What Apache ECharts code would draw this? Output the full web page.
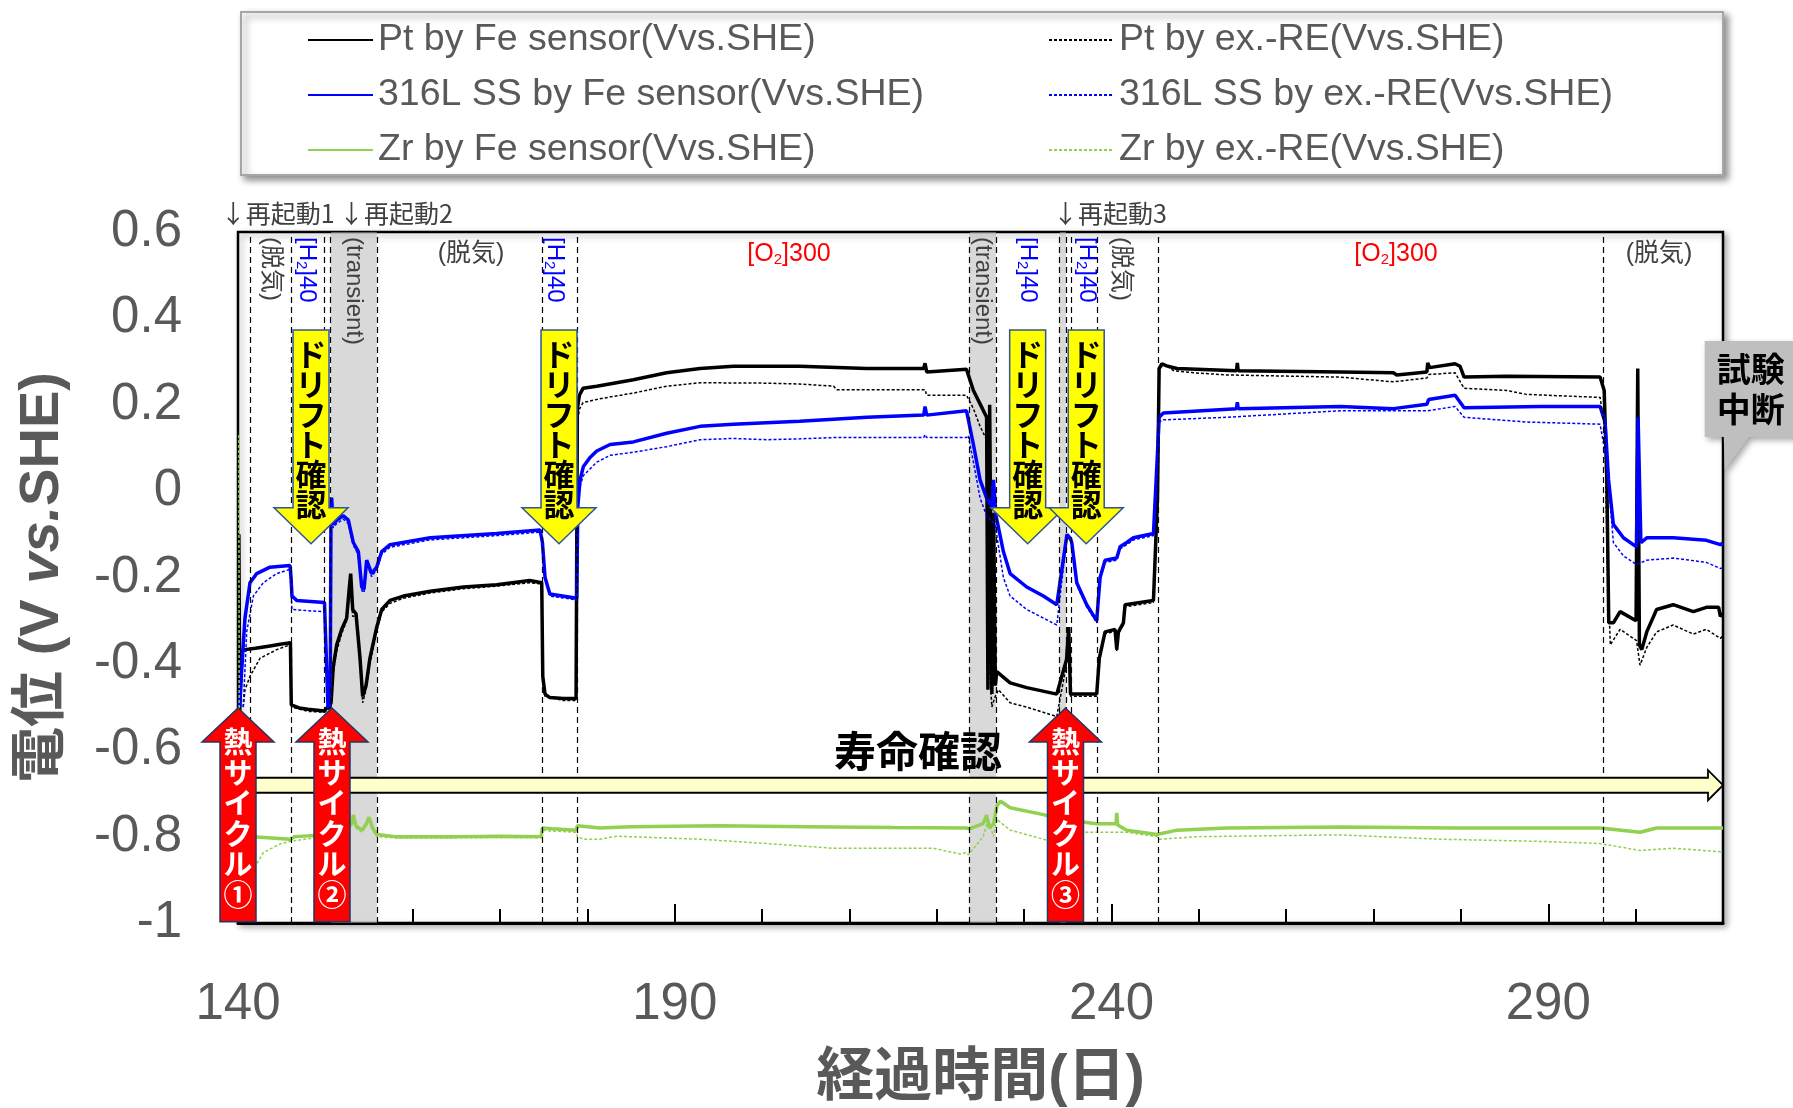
<!DOCTYPE html>
<html><head><meta charset="utf-8">
<script src="https://cdn.jsdelivr.net/npm/echarts@6/dist/echarts.min.js"></script>
<style>html,body{margin:0;padding:0;background:#fff}#c{width:1793px;height:1108px}</style>
</head><body><div id="c"></div><script>
// ---------------- DATA (day, potential V vs SHE) ----------------
const ptFe = [
[140.10,-0.10],[140.20,-0.51],[140.35,-0.42],[140.5,-0.37],[140.8,-0.367],[142.0,-0.364],[143.5,-0.359],[145.0,-0.354],[146.0,-0.351],[146.1,-0.495],[147.0,-0.502],[148.0,-0.505],[149.9,-0.509],
[150.65,-0.491],[150.9,-0.408],[151.3,-0.356],[151.87,-0.32],[152.44,-0.294],[152.75,-0.222],[152.9,-0.191],[153.13,-0.274],[153.51,-0.284],[153.97,-0.387],[154.27,-0.475],[154.66,-0.45],[155.1,-0.387],[155.88,-0.315],[156.45,-0.274],[157.4,-0.253],[158.93,-0.243],[162.0,-0.232],[165.8,-0.222],[169.6,-0.217],[173.4,-0.207],[174.77,-0.212],
[174.89,-0.429],[175.15,-0.47],[175.7,-0.478],[177.25,-0.48],[178.7,-0.48],
[178.85,0.191],[179.08,0.222],[179.5,0.238],[181.07,0.243],[185.26,0.258],[189.07,0.274],[192.9,0.284],[196.7,0.289],[204.3,0.289],[212.0,0.284],[218.5,0.284],[218.65,0.296],[218.84,0.276],[223.4,0.282],[223.6,0.282],
[224.19,0.233],[224.95,0.202],[225.7,0.171],[225.85,-0.46],[226.05,0.2],[226.3,-0.47],[226.5,-0.05],[226.7,-0.45],[226.86,-0.418],[228.39,-0.444],[230.29,-0.455],[233.73,-0.47],
[234.85,-0.39],[235.1,-0.315],[235.3,-0.47],[235.45,-0.47],[238.3,-0.47],[238.6,-0.387],[239.26,-0.326],[240.4,-0.32],[240.6,-0.367],[240.79,-0.326],[241.36,-0.305],[241.55,-0.263],[244.8,-0.253],[245.26,-0.016],[245.45,0.284],[245.75,0.295],[246.3,0.29],[247.5,0.284],[254.3,0.279],[254.4,0.297],[254.5,0.279],[266.2,0.276],
[272.27,0.274],[272.65,0.269],[276.1,0.276],[276.2,0.297],[276.4,0.286],[279.33,0.295],[279.9,0.289],[280.36,0.264],[285.24,0.266],[295.93,0.264],[296.4,0.233],[296.7,0.026],[296.92,-0.305],[297.45,-0.305],[298.22,-0.279],[300.05,-0.30],[300.24,0.284],[300.43,-0.356],[300.7,-0.367],[301.27,-0.326],[302.4,-0.274],[304.3,-0.263],[306.6,-0.279],[308.1,-0.269],[309.5,-0.269],[309.7,-0.29],[310.0,-0.284]
];
const ptEx = [
[140.6,-0.50],[140.8,-0.46],[141.37,-0.429],[142.52,-0.387],[144.43,-0.367],[145.95,-0.356],[146.15,-0.50],[148.0,-0.51],[149.9,-0.512],
[150.65,-0.50],[150.9,-0.42],[151.3,-0.37],[151.87,-0.33],[152.44,-0.30],[152.8,-0.21],[153.13,-0.29],[153.51,-0.29],[153.97,-0.40],[154.27,-0.49],[154.66,-0.46],[155.1,-0.40],[155.88,-0.325],[156.45,-0.28],[157.4,-0.26],[158.93,-0.248],[162.0,-0.236],[165.8,-0.226],[169.6,-0.22],[173.4,-0.212],[174.77,-0.215],
[174.89,-0.44],[175.15,-0.475],[177.25,-0.485],[178.7,-0.485],
[178.85,0.16],[179.08,0.19],[179.5,0.205],[181.44,0.214],[185.26,0.227],[189.07,0.243],[192.9,0.251],[200.5,0.25],[204.3,0.248],[208.2,0.243],[208.5,0.235],[212.0,0.235],[218.65,0.235],[218.84,0.222],[223.4,0.222],[223.6,0.222],
[224.19,0.191],[224.95,0.15],[225.7,0.119],[226.0,-0.40],[226.3,-0.50],[226.6,-0.48],[227.05,-0.46],[228.39,-0.49],[230.29,-0.50],[233.73,-0.522],
[234.85,-0.40],[235.1,-0.33],[235.3,-0.475],[238.3,-0.475],[238.6,-0.39],[239.26,-0.33],[240.4,-0.325],[240.6,-0.37],[240.79,-0.33],[241.36,-0.31],[241.55,-0.268],[244.8,-0.258],[245.26,-0.02],[245.45,0.279],[245.95,0.295],[247.1,0.279],[249.4,0.274],[253.2,0.269],[266.2,0.264],
[272.27,0.253],[276.1,0.262],[276.3,0.27],[279.33,0.274],[280.36,0.238],[285.24,0.233],[287.5,0.224],[295.93,0.217],[296.5,0.14],[296.7,-0.119],[297.1,-0.356],[298.22,-0.32],[300.1,-0.346],[300.5,-0.403],[301.27,-0.362],[302.4,-0.326],[304.3,-0.31],[306.6,-0.331],[308.1,-0.32],[309.7,-0.341],[310.0,-0.335]
];
const ssFe = [
[140.15,-0.50],[140.3,-0.501],[140.53,-0.377],[140.8,-0.294],[141.37,-0.212],[142.14,-0.191],[143.66,-0.176],[145.95,-0.172],[146.07,-0.20],[146.18,-0.243],[146.72,-0.253],[149.9,-0.258],
[150.3,-0.50],[150.55,-0.50],[150.65,-0.03],[150.72,-0.015],[150.9,-0.077],[151.3,-0.067],[152.06,-0.057],[152.63,-0.067],[153.2,-0.119],[153.78,-0.14],[154.16,-0.222],[154.43,-0.227],[154.73,-0.16],[155.3,-0.191],[155.88,-0.176],[156.45,-0.14],[157.4,-0.124],[162.0,-0.108],[169.6,-0.098],[174.58,-0.09],
[174.85,-0.119],[175.15,-0.20],[175.7,-0.238],[178.78,-0.248],
[178.9,-0.036],[179.16,0.026],[179.54,0.057],[180.3,0.078],[181.07,0.093],[182.6,0.108],[185.26,0.114],[189.07,0.134],[192.9,0.15],[196.7,0.155],[204.3,0.162],[212.0,0.171],[218.5,0.176],[218.65,0.196],[218.84,0.176],[223.4,0.186],[223.6,0.186],
[224.19,0.108],[224.95,0.026],[225.7,-0.016],[226.3,-0.036],[226.48,0.026],[226.78,-0.057],[227.62,-0.14],[228.39,-0.191],[230.29,-0.222],[232.2,-0.243],[233.73,-0.263],
[234.9,-0.10],[235.3,-0.11],[235.45,-0.119],[236.02,-0.212],[237.16,-0.263],[238.3,-0.30],[238.69,-0.20],[239.26,-0.16],[240.6,-0.155],[240.98,-0.129],[241.74,-0.119],[242.5,-0.108],[244.8,-0.098],[245.26,0.088],[245.45,0.171],[245.94,0.181],[254.3,0.191],[254.4,0.206],[254.5,0.191],[266.2,0.196],
[272.27,0.191],[276.1,0.201],[276.3,0.212],[279.33,0.222],[280.36,0.193],[289.06,0.196],[295.93,0.196],[296.5,0.16],[296.9,0.026],[297.45,-0.077],[298.6,-0.108],[300.1,-0.129],[300.28,0.171],[300.6,-0.119],[301.27,-0.108],[304.3,-0.108],[308.1,-0.114],[309.7,-0.124],[310.0,-0.12]
];
const ssEx = [
[140.6,-0.50],[141.0,-0.325],[141.76,-0.243],[142.9,-0.212],[144.43,-0.191],[145.95,-0.181],[146.18,-0.274],[148.0,-0.277],[149.9,-0.279],
[150.3,-0.50],[150.55,-0.50],[150.65,-0.04],[150.9,-0.085],[151.3,-0.075],[152.06,-0.065],[152.63,-0.075],[153.2,-0.125],[153.78,-0.148],[154.16,-0.23],[154.43,-0.235],[154.73,-0.168],[155.3,-0.198],[155.88,-0.182],[156.45,-0.146],[157.4,-0.13],[162.0,-0.113],[169.6,-0.103],[174.58,-0.095],
[174.85,-0.125],[175.15,-0.205],[175.7,-0.243],[178.78,-0.252],
[178.97,0.0],[179.54,0.036],[181.07,0.067],[182.6,0.083],[185.26,0.09],[189.07,0.103],[192.9,0.119],[196.7,0.122],[200.5,0.119],[204.3,0.121],[208.2,0.124],[212.0,0.124],[218.5,0.124],[218.65,0.131],[218.84,0.124],[223.4,0.124],[223.6,0.129],
[224.19,0.067],[224.95,-0.016],[225.7,-0.057],[226.67,-0.077],[227.62,-0.20],[228.39,-0.243],[230.29,-0.274],[232.2,-0.294],[233.73,-0.31],
[234.9,-0.105],[235.3,-0.115],[235.45,-0.124],[236.02,-0.217],[237.16,-0.268],[238.3,-0.305],[238.69,-0.205],[239.26,-0.165],[240.6,-0.16],[240.98,-0.134],[241.74,-0.124],[242.5,-0.113],[244.8,-0.103],[245.26,0.07],[245.45,0.16],[245.94,0.165],[253.2,0.171],[266.2,0.186],
[276.1,0.186],[279.33,0.196],[280.36,0.171],[287.5,0.16],[295.93,0.155],[296.7,0.067],[297.45,-0.119],[298.6,-0.15],[300.1,-0.17],[301.27,-0.16],[304.3,-0.155],[308.1,-0.165],[309.7,-0.179],[310.0,-0.178]
];
const zrFe = [
[140.2,-0.79],[142.14,-0.801],[145.95,-0.806],[146.5,-0.80],[149.9,-0.796],[150.65,-0.79],[152.2,-0.78],[153.0,-0.77],[153.2,-0.75],[153.5,-0.775],[154.2,-0.785],[154.7,-0.77],[155.0,-0.755],[155.4,-0.78],[155.9,-0.795],[158.0,-0.80],[165.0,-0.80],[170.0,-0.799],[174.7,-0.80],[174.85,-0.78],[176.0,-0.782],[178.7,-0.785],[178.85,-0.775],[181.44,-0.78],[185.0,-0.777],[195.0,-0.775],[205.0,-0.777],[215.0,-0.779],[223.4,-0.78],
[223.7,-0.782],[225.3,-0.77],[225.7,-0.75],[226.0,-0.78],[226.5,-0.77],[226.9,-0.728],[227.3,-0.718],[228.4,-0.733],[232.2,-0.749],[234.1,-0.76],[238.3,-0.77],[240.5,-0.77],[240.6,-0.745],[240.7,-0.773],[241.74,-0.785],[245.2,-0.795],[247.5,-0.785],[253.2,-0.78],[266.2,-0.778],
[279.5,-0.78],[289.06,-0.78],[295.93,-0.78],[300.5,-0.79],[302.4,-0.78],[309.7,-0.78],[310.0,-0.78]
];
const zrEx = [
[140.1,0.13],[140.15,-0.87],[142.14,-0.863],[142.9,-0.837],[144.81,-0.817],[145.95,-0.811],[148.6,-0.803],[149.9,-0.80],[150.65,-0.795],[152.2,-0.785],[153.0,-0.775],[153.2,-0.755],[153.5,-0.78],[154.2,-0.79],[154.7,-0.775],[155.0,-0.76],[155.4,-0.785],[155.9,-0.80],[158.0,-0.803],[165.0,-0.803],[170.0,-0.802],[174.7,-0.803],[174.85,-0.785],[176.0,-0.787],[178.7,-0.79],[178.85,-0.80],[179.5,-0.806],[181.44,-0.806],[183.35,-0.799],[192.9,-0.806],[200.5,-0.816],[208.2,-0.827],[219.6,-0.827],[222.66,-0.84],[223.4,-0.837],[223.6,-0.842],
[225.3,-0.80],[225.9,-0.76],[226.48,-0.80],[226.86,-0.76],[228.39,-0.785],[232.2,-0.806],[234.1,-0.816],[237.0,-0.79],[241.7,-0.79],[245.2,-0.80],[245.5,-0.806],[250.0,-0.80],[266.16,-0.796],
[277.6,-0.806],[289.06,-0.811],[295.93,-0.816],[300.5,-0.832],[304.3,-0.827],[309.7,-0.835],[310.0,-0.834]
];
const seriesNames = ['Pt by Fe sensor(Vvs.SHE)','316L SS by Fe sensor(Vvs.SHE)','Zr by Fe sensor(Vvs.SHE)','Pt by ex.-RE(Vvs.SHE)','316L SS by ex.-RE(Vvs.SHE)','Zr by ex.-RE(Vvs.SHE)'];
const xTickLabels = [140, 190, 240, 290];
// annotations (days / potentials)
const dashDays = [141.45,146.07,149.9,150.6,155.9,174.85,178.8,223.72,226.78,234.03,234.8,235.36,238.37,245.36,296.3];
const bandRanges = [[150.6,155.9],[223.72,226.78],[234.03,234.8]];
const driftDays = [148.36,176.75,230.4,237.1];
const heatDays = [140.0,150.76,234.73];
const heatLabels = ['①','②','③'];
const restartDays = [139.39,152.94,234.68];
const restartLabels = ['↓再起動1','↓再起動2','↓再起動3'];
const vLabels = [[143.78,'(脱気)','g'],[147.9,'[H{s|2}]40','b'],[153.28,'(transient)','g'],[176.29,'[H{s|2}]40','b'],[225.29,'(transient)','g'],[230.44,'[H{s|2}]40','b'],[237.2,'[H{s|2}]40','b'],[241.09,'(脱気)','g']];
const hLabels = [[166.67,'(脱気)','g'],[203.08,'[O{s|2}]300','r'],[272.57,'[O{s|2}]300','r'],[302.68,'(脱気)','g']];

const FONT = "'Liberation Sans','Noto Sans CJK JP',sans-serif";
const CJK = "'Noto Sans CJK JP','Liberation Sans',sans-serif";
const GRAY = '#595959';

const chart = echarts.init(document.getElementById('c'));
const line = (name, data, color, width, thin) => ({
  name, type:'line', data, symbol:'none', showSymbol:false, silent:true,
  lineStyle:{color, width, type: thin ? [3,2] : 'solid'}, itemStyle:{color}, z: thin ? 2.5 : 2
});
const legendCommon = {orient:'vertical', padding:0, itemWidth:65, itemHeight:14, itemGap:15, selectedMode:false, z:5,
  itemStyle:{opacity:0, borderWidth:0},
  textStyle:{fontSize:37.5, color:GRAY, fontFamily:FONT, lineHeight:40}};
chart.setOption({
  animation:false,
  backgroundColor:'#fff',
  grid:{show:true, left:238, top:232, width:1485, height:691, outerBoundsMode:'none', containLabel:false,
        borderColor:'#000', borderWidth:2.5, backgroundColor:'#fff',
        shadowColor:'rgba(0,0,0,0.3)', shadowBlur:6, shadowOffsetX:3, shadowOffsetY:3},
  legend:[
    Object.assign({left:307, top:20, data:seriesNames.slice(0,3)}, legendCommon),
    Object.assign({left:1048, top:20, data:seriesNames.slice(3)}, legendCommon)
  ],
  xAxis:[{
    type:'value', min:140, max:310, interval:10,
    axisLine:{show:true, onZero:false, lineStyle:{color:'#000', width:3}},
    axisTick:{show:true, inside:true, length:14, lineStyle:{color:'#000', width:2}},
    splitLine:{show:false},
    axisLabel:{formatter:v => xTickLabels.indexOf(Math.round(v)) >= 0 ? String(Math.round(v)) : '', fontSize:51, color:GRAY, fontFamily:FONT, margin:56},
    name:'経過時間(日)', nameLocation:'middle', nameGap:127,
    nameTextStyle:{fontSize:58, fontWeight:'bold', color:GRAY, fontFamily:FONT}
  },{
    type:'value', min:140, max:310, interval:50, position:'bottom',
    axisLine:{show:false, onZero:false}, axisLabel:{show:false}, splitLine:{show:false},
    axisTick:{show:true, inside:true, length:19, lineStyle:{color:'#000', width:2}}
  }],
  yAxis:{
    type:'value', min:-1, max:0.6, interval:0.2,
    axisLine:{show:false}, axisTick:{show:false}, splitLine:{show:false},
    axisLabel:{fontSize:51, color:GRAY, fontFamily:FONT, margin:56, padding:[9,0,0,0], formatter:v => String(+(+v).toFixed(1))},
    name:'{a|電位 (V }{b|vs.}{a|SHE)}', nameLocation:'middle', nameGap:167,
    nameTextStyle:{rich:{
      a:{fontSize:56, fontWeight:'bold', color:GRAY, fontFamily:FONT},
      b:{fontSize:56, fontWeight:'bold', fontStyle:'italic', color:GRAY, fontFamily:FONT}}}
  },
  series:[
    line(seriesNames[0], ptFe, '#000000', 3.5, false),
    line(seriesNames[1], ssFe, '#0000FF', 3.5, false),
    line(seriesNames[2], zrFe, '#92D050', 3.5, false),
    line(seriesNames[3], ptEx, '#000000', 1.5, true),
    line(seriesNames[4], ssEx, '#0000FF', 1.5, true),
    line(seriesNames[5], zrEx, '#92D050', 1.5, true),
    {name:'bands', type:'line', data:[], z:3, silent:true,
     markArea:{silent:true, itemStyle:{color:'rgba(183,183,183,0.53)'}, data:bandRanges.map(b => [{xAxis:b[0]},{xAxis:b[1]}])},
     markLine:{silent:true, symbol:['none','none'], label:{show:false}, lineStyle:{type:[6,4], color:'#000', width:1.2}, data:dashDays.map(d => ({xAxis:d}))}}
  ]
});

const P = (d, v) => chart.convertToPixel({xAxisIndex:0, yAxisIndex:0}, [d, v]);
const els = [];
const g = o => els.push(o);
const colorOf = {g:'#404040', b:'#0000FF', r:'#FF0000'};
const plotTop = P(140, 0.6)[1];

// legend frame
g({type:'rect', z:1, silent:true, shape:{x:241, y:12, width:1482, height:163},
   style:{fill:'#fff', stroke:'#A6A6A6', lineWidth:2, shadowBlur:7, shadowOffsetX:4, shadowOffsetY:4, shadowColor:'rgba(0,0,0,0.45)'}});

// restart labels above the plot
restartDays.forEach((d, i) => {
  const [x] = P(d, 0.6);
  g({type:'text', z:20, x:x - 12, y:plotTop - 19, style:{text:restartLabels[i], fill:'#404040', font:'25px ' + CJK, align:'left', verticalAlign:'middle', textAlign:'left', textVerticalAlign:'middle'}});
});
// rotated condition labels
vLabels.forEach(([d, t, c]) => {
  const [x] = P(d, 0.6);
  g({type:'text', z:20, x:x, y:plotTop + 5, rotation:-Math.PI / 2,
     style:{text:t, fill:colorOf[c], font:'24px ' + FONT, align:'left', verticalAlign:'middle', textAlign:'left', textVerticalAlign:'middle',
            rich:{s:{fontSize:15, fontFamily:FONT, fill:colorOf[c], verticalAlign:'bottom', lineHeight:26}}}});
});
hLabels.forEach(([d, t, c]) => {
  const [x] = P(d, 0.6);
  g({type:'text', z:20, x:x, y:plotTop + 22,
     style:{text:t, fill:colorOf[c], font:'25px ' + FONT, align:'center', verticalAlign:'middle', textAlign:'center', textVerticalAlign:'middle',
            rich:{s:{fontSize:15, fontFamily:FONT, fill:colorOf[c], verticalAlign:'bottom', lineHeight:26}}}});
});

// horizontal life-check arrow
{
  const [x0, yc] = P(140, -0.681);
  const xt = P(310, -0.681)[0];
  g({type:'polygon', z:40, shape:{points:[[x0,yc-7.5],[xt-15,yc-7.5],[xt-15,yc-15],[xt,yc],[xt-15,yc+15],[xt-15,yc+7.5],[x0,yc+7.5]]},
     style:{fill:'#FFFFCC', stroke:'#000', lineWidth:1.8}});
  const [tx, ty] = P(217.85, -0.601);
  g({type:'text', z:41, x:tx, y:ty, style:{text:'寿命確認', fill:'#000', font:'bold 42px ' + CJK, align:'center', verticalAlign:'middle', textAlign:'center', textVerticalAlign:'middle'}});
}

// drift check arrows (yellow, pointing down)
driftDays.forEach(d => {
  const [tx, ty] = P(d, -0.122);
  const y0 = P(d, 0.373)[1];
  const yb = ty - 36;
  g({type:'polygon', z:50, shape:{points:[[tx-18,y0],[tx+18,y0],[tx+18,yb],[tx+37,yb],[tx,ty],[tx-37,yb],[tx-18,yb]]},
     style:{fill:'#FFFF00', stroke:'#2F5597', lineWidth:1.5}});
  g({type:'text', z:51, x:tx, y:y0 + 9, style:{text:'ド\nリ\nフ\nト\n確\n認', fill:'#000', font:'bold 31px ' + CJK, lineHeight:30, align:'center', verticalAlign:'top', textAlign:'center', textVerticalAlign:'top'}});
});

// heat cycle arrows (red, pointing up)
heatDays.forEach((d, i) => {
  const [tx, ty] = P(d, -0.502);
  const yBot = P(d, -0.997)[1];
  const yb = ty + 34;
  g({type:'polygon', z:52, shape:{points:[[tx,ty],[tx+36,yb],[tx+18,yb],[tx+18,yBot],[tx-18,yBot],[tx-18,yb],[tx-36,yb]]},
     style:{fill:'#FF0000', stroke:'#1F3864', lineWidth:1.5}});
  g({type:'text', z:53, x:tx, y:ty + 19, style:{text:'熱\nサ\nイ\nク\nル\n' + heatLabels[i], fill:'#fff', font:'bold 29px ' + CJK, lineHeight:30.5, align:'center', verticalAlign:'top', textAlign:'center', textVerticalAlign:'top'}});
});

// test stop callout
{
  const [tx, ty] = P(310.2, 0.049);
  const top = ty - 129, bot = ty - 33, left = tx - 20;
  g({type:'polygon', z:54, shape:{points:[[left,top],[1800,top],[1800,bot],[tx+24,bot],[tx,ty],[tx-1,bot],[left,bot]]},
     style:{fill:'#BFBFBF', shadowBlur:6, shadowOffsetX:3, shadowOffsetY:3, shadowColor:'rgba(0,0,0,0.35)'}});
  g({type:'text', z:55, x:tx + 26, y:ty - 81, style:{text:'試験\n中断', fill:'#000', font:'bold 34px ' + CJK, lineHeight:40, align:'center', verticalAlign:'middle', textAlign:'center', textVerticalAlign:'middle'}});
}

chart.setOption({graphic:{elements:els}});
</script></body></html>
